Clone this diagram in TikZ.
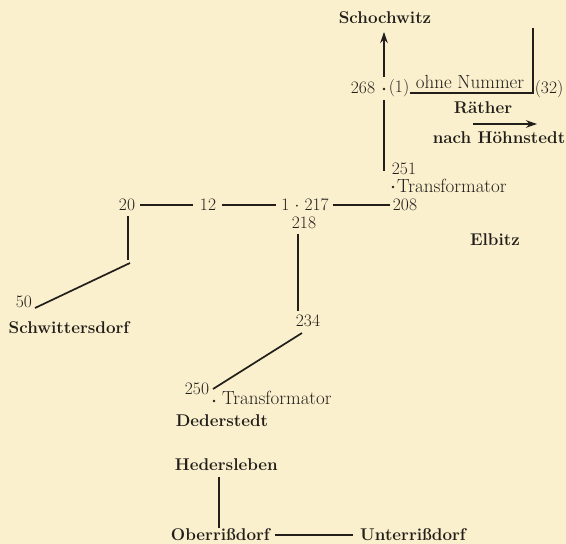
\documentclass[tikz,border=0pt]{standalone}
\usetikzlibrary{arrows.meta}
\definecolor{paper}{RGB}{250,240,206}
\definecolor{ink}{RGB}{34,30,26}
\begin{document}
\begin{tikzpicture}[x=1pt,y=-1pt,
  lbl/.style={inner sep=0pt, font=\fontsize{17.5}{20}\selectfont, text=ink},
  wrd/.style={inner sep=0pt, font=\fontsize{19}{22}\selectfont, text=ink},
  place/.style={inner sep=0pt, font=\fontsize{17}{20}\selectfont\bfseries, text=ink},
  dotc/.style={circle, fill=ink, inner sep=0pt, minimum size=2.8pt},
  wire/.style={draw=ink, line width=1.7pt},
  arr/.style={wire, -{Stealth[length=11pt,width=7.5pt]}}]
\fill[paper] (0,0) rectangle (566,544);
\useasboundingbox (0,0) rectangle (566,544);

% labels
\node[place] (schoch) at (385,18) {Schochwitz};
\node[lbl] (n268) at (363,88) {268};
\node[dotc] (d268) at (384,89) {};
\node[lbl] (n1) at (399,88) {(1)};
\node[wrd] (ohne) at (470,82) {ohne Nummer};
\node[lbl] (n32) at (549,89) {(32)};
\node[place] (raether) at (483,108) {Räther};
\node[place] (hoehn) at (499,138) {nach Höhnstedt};
\node[lbl] (n251) at (404,169) {251};
\node[dotc] (dtr1) at (393,187) {};
\node[wrd, anchor=west] (trafo1) at (397,186) {Transformator};
\node[lbl] (n208) at (405,205) {208};
\node[lbl] (n20) at (127,205) {20};
\node[lbl] (n12) at (208,205) {12};
\node[lbl] (n217) at (305,205) {1 $\cdot$ 217};
\node[lbl] (n218) at (304,223) {218};
\node[lbl] (n234) at (308,321) {234};
\node[lbl] (n250) at (197,389) {250};
\node[dotc] (dtr2) at (214,401) {};
\node[wrd, anchor=west] (trafo2) at (222,398) {Transformator};
\node[place] (deder) at (222,421) {Dederstedt};
\node[lbl] (n50) at (24,302) {50};
\node[place] (schwitt) at (69,328) {Schwittersdorf};
\node[place] (elbitz) at (495,240) {Elbitz};
\node[place, anchor=east] (heder) at (278,465) {Hedersleben};
\node[place, anchor=east] (ober) at (270,535) {Oberrißdorf};
\node[place, anchor=west] (unter) at (360,535) {Unterrißdorf};

% coordinates for free ends
\coordinate (a1) at (384,77);
\coordinate (a2) at (384,32);
\coordinate (b1) at (384,100);
\coordinate (b2) at (384,171);
\coordinate (h1) at (410,93);
\coordinate (h2) at (533,93);
\coordinate (h3) at (533,28);
\coordinate (r1) at (473,124);
\coordinate (r2) at (537,124);
\coordinate (s1) at (128,216);
\coordinate (s2) at (128,260);
\coordinate (s3) at (130,263);
\coordinate (s4) at (35,308);
\coordinate (t1) at (298,234);
\coordinate (t2) at (298,311);
\coordinate (u1) at (302,333);
\coordinate (u2) at (213,389);
\coordinate (o1) at (219,477);
\coordinate (o2) at (219,528);
\coordinate (o3) at (275,535);
\coordinate (o4) at (353,535);

% connectors
\draw[arr] (a1) -- (a2);
\draw[wire] (b1) -- (b2);
\draw[wire] (h1) -- (h2) -- (h3);
\draw[arr] (r1) -- (r2);
\draw[wire, shorten <=5pt, shorten >=7pt] (n20.east) -- (n12.west);
\draw[wire, shorten <=6pt, shorten >=5pt] (n12.east) -- (n217.west);
\draw[wire, shorten <=4pt, shorten >=3pt] (n217.east) -- (n208.west);
\draw[wire] (s1) -- (s2);
\draw[wire] (s3) -- (s4);
\draw[wire] (t1) -- (t2);
\draw[wire] (u1) -- (u2);
\draw[wire] (o1) -- (o2);
\draw[wire] (o3) -- (o4);
\end{tikzpicture}
\end{document}
